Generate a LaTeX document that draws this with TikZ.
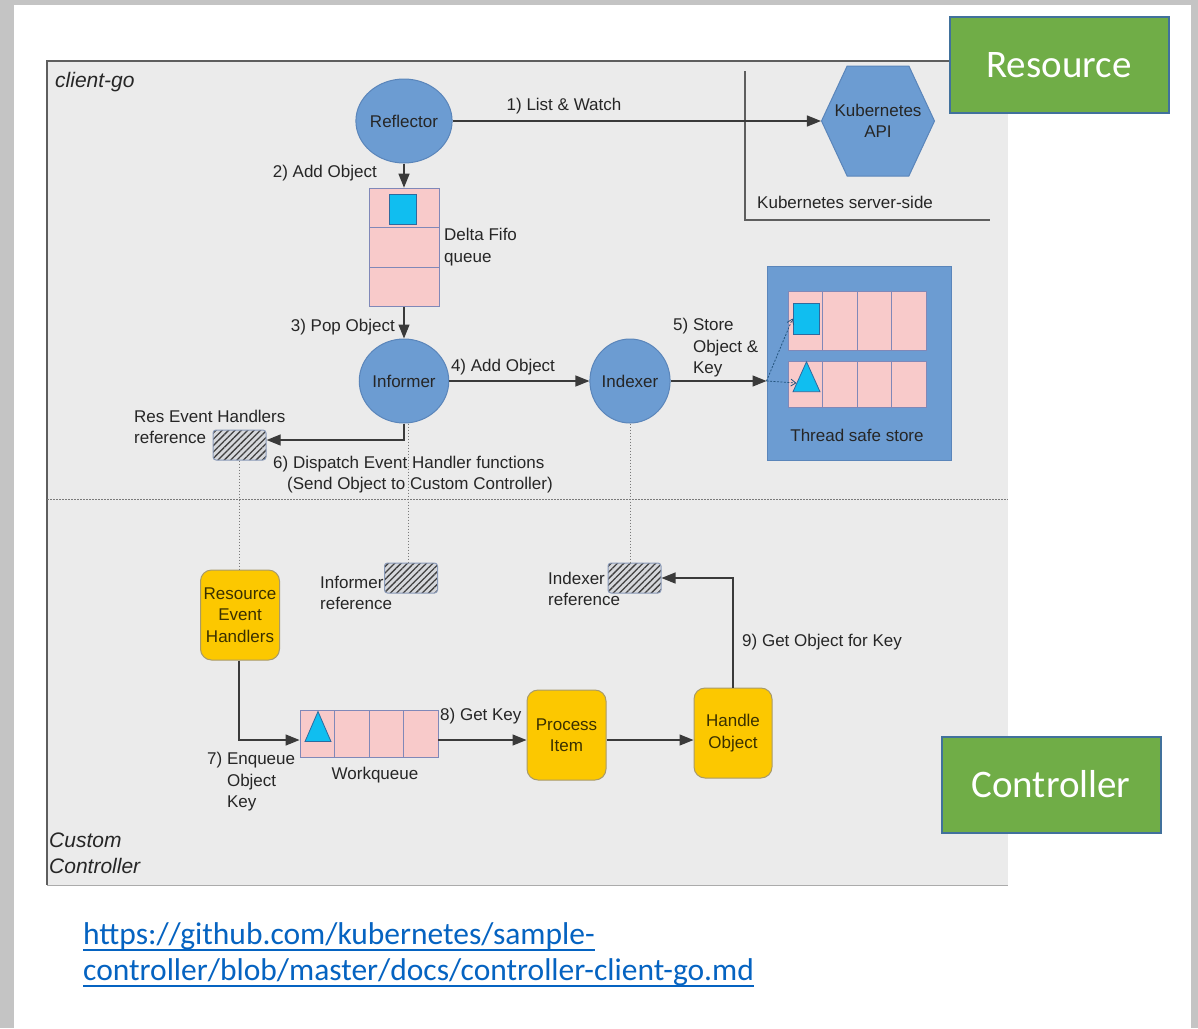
\documentclass[tikz,border=0pt]{standalone}
\usepackage{fontspec}
\setmainfont{Liberation Sans}
\newfontfamily\slidefont{Carlito}
\newcommand{\linkline}[1]{\setbox0\hbox{#1}\rlap{\rule[-6.5pt]{\wd0}{1.8pt}}\box0}
\usetikzlibrary{arrows.meta,shapes.geometric,shapes.symbols,patterns.meta}

\definecolor{slidegrey}{HTML}{C4C4C4}
\definecolor{panel}{HTML}{EBEBEB}
\definecolor{panelline}{HTML}{5E5E5E}
\definecolor{panelbottom}{HTML}{ABABAB}
\definecolor{labeltext}{HTML}{262626}
\definecolor{nodeblue}{HTML}{6C9CD2}
\definecolor{nodeborder}{HTML}{5A85BA}
\definecolor{cellpink}{HTML}{F8CACA}
\definecolor{cellborder}{HTML}{8088B8}
\definecolor{itemcyan}{HTML}{10BEF0}
\definecolor{itemborder}{HTML}{2E6A9E}
\definecolor{handleryellow}{HTML}{FCC800}
\definecolor{yellowborder}{HTML}{A89A6A}
\definecolor{yellowtext}{HTML}{3A3000}
\definecolor{refgrey}{HTML}{D6D8DC}
\definecolor{hatch}{HTML}{404040}
\definecolor{refborder}{HTML}{8A9AB8}
\definecolor{flowline}{HTML}{3A3A3A}
\definecolor{dotline}{HTML}{7A7A7A}
\definecolor{taggreen}{HTML}{70AD47}
\definecolor{tagborder}{HTML}{41719C}
\definecolor{linkblue}{HTML}{0563C1}

\begin{document}
\begin{tikzpicture}[x=1pt,y=-1pt,
    txt/.style={text=labeltext,inner sep=0pt,align=left,font=\fontsize{17}{21.5}\selectfont},
    agent/.style={ellipse,draw=nodeborder,fill=nodeblue,line width=1pt,minimum width=80pt,minimum height=84pt,inner sep=0pt,text=labeltext,font=\fontsize{17}{21.5}\selectfont},
    cell/.style={draw=cellborder,fill=cellpink,line width=0.9pt,inner sep=0pt},
    fifocell/.style={cell,minimum width=70pt,minimum height=39.7pt},
    topcell/.style={cell,minimum width=34.5pt,minimum height=59pt},
    lowcell/.style={cell,minimum width=34.5pt,minimum height=46pt},
    wqcell/.style={cell,minimum width=34.5pt,minimum height=47pt},
    item/.style={fill=itemcyan,draw=itemborder,line width=0.8pt,inner sep=0pt},
    key/.style={item,isosceles triangle,isosceles triangle stretches,shape border rotate=90,minimum width=27pt,minimum height=30pt},
    handler/.style={rounded corners=11pt,draw=yellowborder,fill=handleryellow,line width=1pt,minimum width=79pt,minimum height=90pt,inner sep=0pt,align=center,text=yellowtext,font=\fontsize{17}{21.5}\selectfont},
    refbox/.style={draw=refborder,rounded corners=3pt,line width=1pt,minimum width=53pt,minimum height=30pt,preaction={fill=refgrey},pattern={Lines[angle=45,distance=4.5pt,line width=1.3pt]},pattern color=hatch},
    flow/.style={draw=flowline,line width=1.3pt,-{Triangle[length=14pt,width=11pt]}},
    storeline/.style={draw=itemborder!80!black,line width=0.8pt,dash pattern=on 2pt off 1.5pt,-{Straight Barb[length=5pt,width=7pt]}},
    refline/.style={draw=dotline,line width=1pt,dash pattern=on 1.5pt off 1.5pt},
    tag/.style={draw=tagborder,fill=taggreen,line width=2pt,minimum width=219pt,minimum height=96pt,text=white,font=\slidefont\fontsize{39}{45}\selectfont}]

    \useasboundingbox (0,0) rectangle (1198,1028);
    \fill[slidegrey] (0,0) rectangle (1198,1028);
    \fill[white] (14,5) rectangle (1191,1028);
    \fill[panel] (47,61) rectangle (1008,885);
    \draw[panelline,line width=1.5pt] (1008,61) -- (47,61) -- (47,885);
    \draw[panelbottom,line width=1pt] (47,885) -- (1008,885);
    \draw[refline] (47,499) -- (1008,499);
    \draw[panelline,line width=1.3pt] (745,71) -- (745,220) -- (990,220);

    \node[txt,anchor=west,font=\itshape\fontsize{21}{26}\selectfont] (clientgo) at (55,82) {client-go};
    \node[txt,anchor=west,font=\itshape\fontsize{21}{26}\selectfont] (custom) at (49,853) {Custom\\Controller};
    \node[txt,anchor=west] (serverside) at (757,202) {Kubernetes server-side};

    \node[agent] (reflector) at (404,121) {Reflector};
    \node[signal,signal to=west and east,signal pointer angle=130,draw=nodeborder,fill=nodeblue,line width=1pt,minimum width=113pt,minimum height=110pt,inner sep=0pt,align=center,text=labeltext,font=\fontsize{17}{21.5}\selectfont] (api) at (878,121) {\makebox[0pt]{Kubernetes}\\\makebox[0pt]{API}};

    \node[fifocell] (fifo1) at (404,208) {};
    \node[fifocell] (fifo2) at (404,247.5) {};
    \node[fifocell] (fifo3) at (404,287) {};
    \node[item,minimum width=27pt,minimum height=30pt] (fifoobj) at (403,209) {};
    \node[txt,anchor=west] (fifolabel) at (444,247) {Delta Fifo\\queue};

    \node[agent] (informer) at (404,381) {Informer};
    \node[agent] (indexer) at (630,381) {Indexer};

    \node[rectangle,draw=nodeborder,fill=nodeblue,line width=1pt,minimum width=184pt,minimum height=194pt] (store) at (859,363) {};
    \node[topcell] (s11) at (805.25,320.5) {};
    \node[topcell] (s12) at (839.75,320.5) {};
    \node[topcell] (s13) at (874.25,320.5) {};
    \node[topcell] (s14) at (908.75,320.5) {};
    \node[lowcell] (s21) at (805.25,384) {};
    \node[lowcell] (s22) at (839.75,384) {};
    \node[lowcell] (s23) at (874.25,384) {};
    \node[lowcell] (s24) at (908.75,384) {};
    \node[item,minimum width=26pt,minimum height=31pt] (storeobj) at (806,318.5) {};
    \node[key] (storekey) at (806.5,383) {};
    \node[txt] (storelabel) at (857,435) {Thread safe store};

    \node[refbox] (resref) at (239.5,445) {};
    \node[refbox] (infref) at (411,578) {};
    \node[refbox] (idxref) at (634.5,578) {};
    \node[txt,anchor=west] (resreflabel) at (134,427) {Res Event Handlers\\reference};
    \node[txt,anchor=west] (infreflabel) at (320,593) {Informer\\reference};
    \node[txt,anchor=west] (idxreflabel) at (548,589) {Indexer\\reference};

    \node[handler] (reh) at (240,615) {Resource\\Event\\Handlers};
    \node[wqcell] (wq1) at (317.25,733.5) {};
    \node[wqcell] (wq2) at (351.75,733.5) {};
    \node[wqcell] (wq3) at (386.25,733.5) {};
    \node[wqcell] (wq4) at (420.75,733.5) {};
    \node[key,minimum width=26pt] (wqkey) at (318,733) {};
    \node[txt] (wqlabel) at (375,775) {Workqueue};
    \node[handler] (proc) at (566.5,735) {Process\\Item};
    \node[handler,minimum width=78pt] (handle) at (733,733) {Handle\\Object};

    \draw[flow] (reflector.east) -- (api.west);
    \draw[flow] (reflector) -- (fifo1);
    \draw[flow] (fifo3) -- (informer);
    \draw[flow] (informer) -- (indexer);
    \draw[flow] (indexer.east) -- (indexer.east -| store.west);
    \draw[storeline] (indexer.east -| store.west) -- (storeobj.west);
    \draw[storeline] (indexer.east -| store.west) -- (storekey.west);
    \draw[flow] (informer.south) |- ([yshift=5pt]resref.east);
    \draw[refline] (resref.south) -- (resref.south |- reh.north);
    \draw[refline] ([xshift=4pt]informer.south) -- ([xshift=4pt]informer.south |- infref.north);
    \draw[refline] (indexer.south) -- (indexer.south |- idxref.north);
    \draw[flow] ([xshift=-1pt]reh.south) |- ([yshift=-6.5pt]wq1.west);
    \draw[flow] ([yshift=-6.5pt]wq4.east) -- ([yshift=-6.5pt]wq4.east -| proc.west);
    \draw[flow] ([yshift=-5pt]proc.east) -- ([yshift=-5pt]proc.east -| handle.west);
    \draw[flow] (handle.north) |- (idxref.east);

    \node[txt] (step1) at (564,106) {1) List \& Watch};
    \node[txt,anchor=east] (step2) at (377,173) {2) Add Object};
    \node[txt,anchor=east] (step3) at (395,327) {3) Pop Object};
    \node[txt] (step4) at (503,367) {4) Add Object};
    \node[txt,anchor=west] (step5) at (673,348) {5) Store\\\hphantom{5) }Object \&\\\hphantom{5) }Key};
    \node[txt,anchor=west] (step6) at (273,474.5) {6) Dispatch Event Handler functions\\\hspace*{14pt}(Send Object to Custom Controller)};
    \node[txt,anchor=west] (step7) at (207,782) {7) Enqueue\\\hphantom{7) }Object\\\hphantom{7) }Key};
    \node[txt,anchor=west] (step8) at (440,716) {8) Get Key};
    \node[txt,anchor=west] (step9) at (742,642) {9) Get Object for Key};

    \node[tag] (resource) at (1059,65) {Resource};
    \node[tag] (controller) at (1051,784.5) {Controller};

    \node[anchor=west,inner sep=0pt,align=left,text=linkblue,font=\slidefont\fontsize{31.5}{36}\selectfont] (link) at (83,955) {\linkline{https://github.com/kubernetes/sample-}\\\linkline{controller/blob/master/docs/controller-client-go.md}};
\end{tikzpicture}
\end{document}
